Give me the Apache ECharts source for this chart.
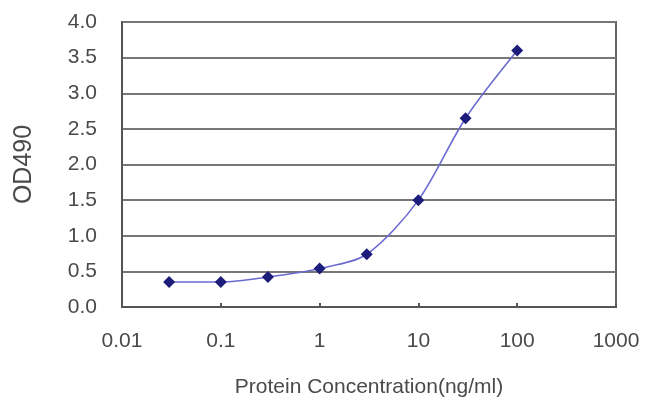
<!DOCTYPE html>
<html><head><meta charset="utf-8">
<script src="https://cdn.jsdelivr.net/npm/echarts@6/dist/echarts.min.js"></script>
<style>html,body{margin:0;padding:0;background:#fff}#c{width:650px;height:419px}</style>
</head><body><div id="c"></div>
<script>
const concentrations = [0.03, 0.1, 0.3, 1, 3, 10, 30, 100];
const odValues = [0.35, 0.35, 0.42, 0.54, 0.74, 1.50, 2.65, 3.60];
const yTicks = [0, 0.5, 1, 1.5, 2, 2.5, 3, 3.5, 4];
const xTitle = 'Protein Concentration(ng/ml)';
const yTitle = 'OD490';

const chart = echarts.init(document.getElementById('c'), null, {renderer:'canvas'});
const font = 'Liberation Sans, Arial, sans-serif';
chart.setOption({
  animation:false,
  grid:{left:122,right:34,top:22,bottom:112,show:true,borderColor:'#666',borderWidth:2},
  xAxis:{type:'log',logBase:10,min:0.01,max:1000,
    name:xTitle,nameLocation:'middle',nameGap:70,
    nameTextStyle:{fontFamily:font,fontSize:21,color:'#4a4a4a'},
    axisLine:{lineStyle:{color:'#555',width:2}},
    axisTick:{inside:true,length:4,lineStyle:{color:'#555',width:2}},
    minorTick:{show:false},
    splitLine:{show:false},
    axisLabel:{fontFamily:font,fontSize:21,color:'#4a4a4a',margin:24,
      formatter:v=>String(+v.toPrecision(3))}},
  yAxis:{type:'value',min:0,max:4,interval:0.5,
    name:yTitle,nameLocation:'middle',nameGap:85,
    nameTextStyle:{fontFamily:font,fontSize:25,color:'#4a4a4a'},
    axisLine:{show:true,lineStyle:{color:'#555',width:2}},
    axisTick:{show:false},
    splitLine:{lineStyle:{color:'#777',width:2}},
    axisLabel:{fontFamily:font,fontSize:21,color:'#4a4a4a',margin:25,
      formatter:v=>v.toFixed(1)}},
  series:[{type:'line',smooth:0.3,
    data:concentrations.map((c,i)=>[c,odValues[i]]),
    symbol:'diamond',symbolSize:12,
    itemStyle:{color:'#1c1c7a'},
    lineStyle:{color:'#6a6ad0',width:1.6}}]
});
</script></body></html>
